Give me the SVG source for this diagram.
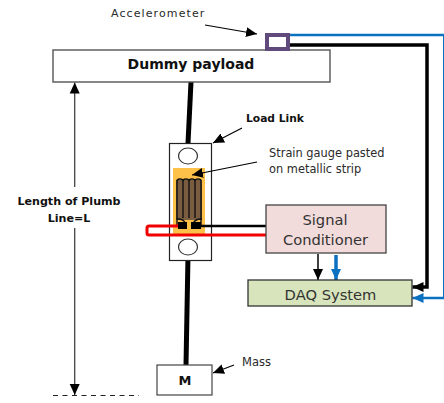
<svg xmlns="http://www.w3.org/2000/svg" width="444" height="403" viewBox="0 0 444 403">
<style>
text{font-family:"DejaVu Sans","Liberation Sans",sans-serif;fill:#2a2a2a}
.s{font-size:11.400px}
.m{font-size:14.700px;fill:#333}
.b{font-weight:bold;fill:#111}
.k{fill:none;stroke:#000}
.bl{fill:none;stroke:#0a70c0}
.g{fill:none;stroke:#444;stroke-width:1.300}
</style>
<defs>
<marker id="ak" markerUnits="userSpaceOnUse" markerWidth="12" markerHeight="12" refX="11" refY="6" orient="auto-start-reverse"><path d="M0 1L11 6L0 11z" fill="#000"/></marker>
<marker id="ab" markerUnits="userSpaceOnUse" markerWidth="12" markerHeight="12" refX="11" refY="6" orient="auto"><path d="M0 1L11 6L0 11z" fill="#0a70c0"/></marker>
</defs>
<g id="connectors">
<path d="M191 82L188 143" class="k" stroke-width="5"/>
<path d="M188 256L186 365" class="k" stroke-width="5"/>
<path d="M74.700 187V82.500" class="g" marker-end="url(#ak)"/>
<path d="M74.700 228V395" class="g" marker-end="url(#ak)"/>
<path d="M53 395.500H139" fill="none" stroke="#222" stroke-width="1" stroke-dasharray="5 4.500"/>
<path d="M289 35H444" class="bl" stroke-width="2.500"/>
<path d="M443.500 35V297" fill="none" stroke="#0a70c0" stroke-width="1"/>
<path d="M444 298H412.500" class="bl" stroke-width="2.500" marker-end="url(#ab)"/>
<path d="M288 45H427V287H412.500" class="k" stroke-width="3.500" marker-end="url(#ak)"/>
<path d="M318 254V280" class="k" stroke-width="1.500" marker-end="url(#ak)"/>
<path d="M336 255V280" class="bl" stroke-width="3.500" marker-end="url(#ab)"/>
</g>
<g id="payload"><rect x="53" y="50" width="277" height="32" fill="#fff" stroke="#555" stroke-width="1.400"/><text x="191" y="69" text-anchor="middle" class="b" font-size="14">Dummy payload</text></g>
<g id="accelerometer"><rect x="267" y="35" width="21" height="14" fill="#fff" stroke="#604a7b" stroke-width="4"/></g>
<g id="load-link">
<rect x="169.500" y="143.500" width="42" height="117" fill="#fff" stroke="#222" stroke-width="1.200"/>
<ellipse cx="188" cy="156" rx="9.500" ry="8" fill="#fff" stroke="#333" stroke-width="1.200"/>
<ellipse cx="188" cy="247" rx="9.500" ry="8" fill="#fff" stroke="#333" stroke-width="1.200"/>
<rect x="173" y="168" width="32" height="67" fill="#fdc14a"/>
<path d="M176 180H202V220H176z" fill="#7a5c40"/>
<path d="M177 226V181Q177 179 180 179Q183 179 183 181V218M183 181Q183 179 186 179Q189 179 189 181V218M189 181Q189 179 192 179Q195 179 195 181V218M195 181Q195 179 198 179Q201 179 201 181V226" fill="none" stroke="#111" stroke-width="1.400"/>
<path d="M177 219Q185 218 186 226M202 219Q194 218 192 226" fill="none" stroke="#111" stroke-width="1.500"/>
<rect x="178" y="222" width="9" height="7" fill="#000"/><rect x="191" y="222" width="10" height="7" fill="#000"/>
</g>
<g id="wires">
<path d="M200 226H266" class="k" stroke-width="2.500"/>
<path d="M178 226H149Q147 226 147 228V233Q147 235 149 235H266" fill="none" stroke="#f00000" stroke-width="3"/>
</g>
<g id="signal-conditioner"><rect x="266" y="205" width="120" height="48" fill="#f2dcdb" stroke="#444" stroke-width="1.300"/><text x="325" y="225" text-anchor="middle" class="m">Signal</text><text x="325.500" y="245" text-anchor="middle" class="m">Conditioner</text></g>
<g id="daq"><rect x="248" y="280" width="164" height="26" fill="#d8e4bc" stroke="#333" stroke-width="1.300"/><text x="330.500" y="300" text-anchor="middle" class="m">DAQ System</text></g>
<g id="mass"><rect x="157" y="365" width="55" height="30" fill="#fff" stroke="#444" stroke-width="1.200"/><text x="185" y="385" text-anchor="middle" class="b" font-size="13">M</text></g>
<g id="callouts">
<path d="M205 25L257 34" class="k" stroke-width="1.200" marker-end="url(#ak)"/>
<path d="M242 128L213 143" class="k" stroke-width="1.200" marker-end="url(#ak)"/>
<path d="M257 162L192 175" class="k" stroke-width="1.200" marker-end="url(#ak)"/>
<path d="M234 365L213 373" class="k" stroke-width="1.200" marker-end="url(#ak)"/>
</g>
<g id="labels">
<text x="111" y="17" font-size="11" letter-spacing="1.100">Accelerometer</text>
<text x="246" y="122" font-size="10.700" class="b">Load Link</text>
<text x="269" y="157" class="s">Strain gauge pasted</text>
<text x="269" y="173" class="s">on metallic strip</text>
<text x="69" y="205" text-anchor="middle" font-size="11.100" class="b">Length of Plumb</text>
<text x="69" y="222" text-anchor="middle" font-size="11.100" class="b">Line=L</text>
<text x="242" y="366" font-size="11.500">Mass</text>
</g>
</svg>
